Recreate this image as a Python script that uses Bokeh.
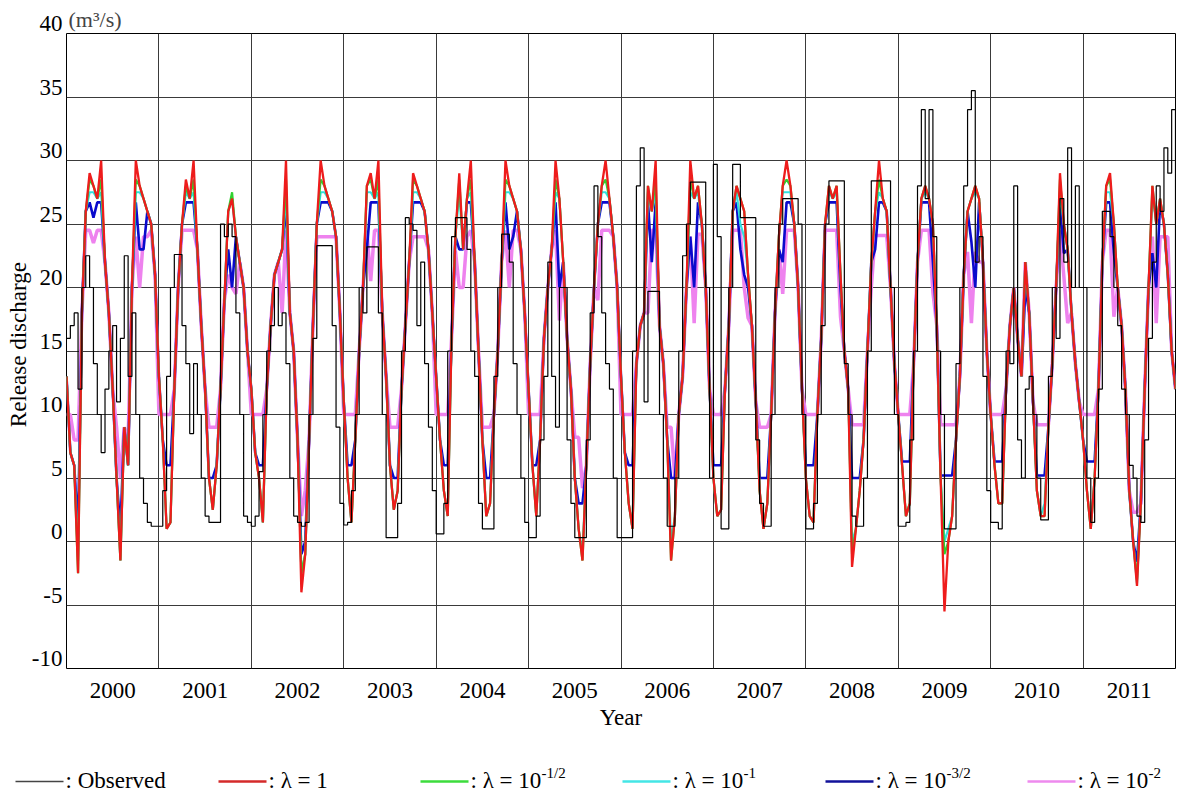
import numpy as np
from bokeh.plotting import figure
from bokeh.models import FixedTicker, Range1d
from bokeh.layouts import column, row
from bokeh.embed import file_html
from bokeh.resources import INLINE
from bokeh.core.properties import value

FONT = "Liberation Serif"
years = list(range(2000, 2012))
year_labels = [str(y) for y in years]
y_ticks = [-10, -5, 0, 5, 10, 15, 20, 25, 30, 35, 40]
steps_per_year = 24  # half-monthly readings

observed = [
    16, 17, 18, 12, 20, 22.5, 20, 14, 10, 7, 12, 15, 17, 11, 16, 22.5, 13, 18, 10, 5, 3, 1.5, 1.2, 1.2,
    1.2, 4, 13, 20, 22.6, 22.6, 17, 14, 8.5, 14, 10, 5, 2, 1.5, 1.5, 1.5, 25, 24, 25, 24, 18, 10, 2, 1.5,
    1.2, 2, 5.5, 10, 15, 17, 20, 17, 18, 14, 5, 2, 1.5, 1.2, 1.5, 10, 16, 23.3, 23.3, 23.3, 23.3, 17, 9, 3,
    1.3, 1.5, 4, 10, 20, 18, 23.2, 23.2, 23.2, 18, 10, 0.3, 0.3, 0.3, 3, 15, 25.5, 25, 24.5, 17, 22, 14, 9, 4,
    0.6, 0.6, 3, 15, 24, 25.5, 25.5, 25.5, 23, 15, 13, 3, 1, 1, 1, 13, 20, 24.2, 24.2, 22, 14, 10, 5, 1.5,
    0.3, 0.3, 2, 8, 13, 22, 13, 9, 20, 20, 8, 3, 0.3, 0.3, 0.3, 8, 18, 28, 24, 18, 14, 12, 5, 0.3,
    0.3, 0.3, 0.3, 15, 28, 31, 11, 19.7, 19.7, 19.7, 10, 5, 1.2, 1.2, 5, 15, 22.5, 25, 28.3, 28.3, 28.3, 28.3, 20, 5,
    29.7, 24, 1, 1, 20, 29.7, 29.7, 25.5, 25.5, 25.5, 25.5, 8, 3, 1.2, 1.2, 10, 20, 25, 27, 27, 27, 27, 25, 10,
    1, 1, 3, 10, 17, 25, 28.4, 28.4, 28.4, 28.4, 14, 10, 2, 1.2, 1.2, 5, 15, 28.4, 28.4, 28.4, 28.4, 28.4, 20, 10,
    1.2, 1.2, 1.5, 8, 15, 28, 34, 27, 34, 24, 15, 10, 1, 1, 1, 14, 20, 28, 34, 35.5, 22, 24, 13, 4,
    1.5, 1.5, 1.0, 10, 15, 14, 28, 8, 5, 12, 13, 10, 5, 1.7, 1.7, 13, 20, 16, 27, 22, 31, 20, 28, 20,
    20, 5, 1.5, 5, 12, 26, 26, 24, 20, 17, 12, 10, 6, 5, 2, 1.5, 8, 16, 22, 28, 26, 31, 29, 34,
    20,
]

lam_1 = [
    13, 7, 6, -2.5, 18, 26, 29, 28, 27, 30, 22, 18, 12, 5, -1.5, 9, 6, 20, 30, 28, 27, 26, 25, 21,
    13, 8, 1, 1.5, 12, 20, 25, 28.5, 27, 30, 23, 17, 12, 5, 2.5, 6, 12, 19, 26, 27, 24, 22, 20, 15,
    12, 7, 5, 1.5, 12, 17, 21, 22, 23, 30, 18, 15, 8, -4, -1, 8, 17, 25, 30, 28, 27, 26, 24, 18,
    11, 5, 1.5, 8, 15, 20, 28, 29, 27, 30, 18, 13, 6, 2.5, 4, 12, 17, 22, 29, 28, 27, 26, 23, 18,
    13, 8, 4, 2, 16, 24, 29, 23, 27, 30, 22, 15, 8, 2, 3, 10, 15, 22, 30, 28, 27, 26, 23, 18,
    12, 6, 2, 8, 16, 20, 23, 30, 27, 22, 16, 12, 5, 1, -1.5, 6, 14, 20, 25, 28, 30, 27, 24, 20,
    13, 7, 3, 1, 14, 17, 18, 28, 26, 30, 17, 14, 8, -1.5, 2, 10, 13, 20, 30, 27, 28, 25, 20, 12,
    5, 2, 2.5, 12, 17, 26, 28, 27, 26, 21, 17, 11, 4, 1, 3, 10, 18, 24, 28, 30, 28, 25, 20, 12,
    5, 2, 1.5, 10, 16, 25, 28, 27, 28, 21, 15, 12, -2, 1, 4, 8, 15, 22, 26, 30, 27, 26, 20, 14,
    10, 6, 2, 3, 14, 22, 27, 28, 27, 25, 17, 5, -5.5, 0, 2, 8, 13, 21, 26, 27, 28, 27, 22, 15,
    10, 6, 3, 3, 12, 17, 20, 16, 13, 22, 18, 11, 4, 2, 2, 9, 14, 20, 29, 25, 23, 18, 14, 11,
    8, 4, 1, 5, 12, 22, 28, 29, 25, 20, 17, 12, 4, 0, -3.5, 3, 12, 20, 28, 25, 27, 25, 21, 15,
    12,
]

lam_m05 = [
    13, 7, 6, -2.5, 18, 26, 28.5, 28, 27, 28.5, 22, 18, 12, 5, -1.5, 9, 6, 20, 28.5, 28, 27, 26, 25, 21,
    13, 8, 1, 1.5, 12, 20, 25, 28, 27, 28.5, 23, 17, 12, 5, 2.5, 6, 12, 19, 26, 27.5, 24, 22, 20, 15,
    12, 7, 5, 1.5, 12, 17, 21, 22, 23, 28.5, 18, 15, 8, -2.5, -1, 8, 17, 25, 28.5, 28, 27, 26, 24, 18,
    11, 5, 1.5, 8, 15, 20, 28, 28.5, 27, 28.5, 18, 13, 6, 2.5, 4, 12, 17, 22, 28.5, 28, 27, 26, 23, 18,
    13, 8, 4, 2, 16, 24, 28.5, 23, 27, 28.5, 22, 15, 8, 2, 3, 10, 15, 22, 28.5, 28, 27, 26, 23, 18,
    12, 6, 2, 8, 16, 20, 23, 28.5, 27, 22, 16, 12, 5, 1, -1.5, 6, 14, 20, 25, 28, 28.5, 27, 24, 20,
    13, 7, 3, 1, 14, 17, 18, 28, 26, 28.5, 17, 14, 8, -1.5, 2, 10, 13, 20, 28.5, 27, 28, 25, 20, 12,
    5, 2, 2.5, 12, 17, 26, 28, 27, 26, 21, 17, 11, 4, 1, 3, 10, 18, 24, 28, 28.5, 28, 25, 20, 12,
    5, 2, 1.5, 10, 16, 25, 28, 27, 28, 21, 15, 12, -1, 1, 4, 8, 15, 22, 26, 28.5, 27, 26, 20, 14,
    10, 6, 2, 3, 14, 22, 27, 28, 27, 25, 17, 5, -1, 0, 2, 8, 13, 21, 26, 27, 28, 27, 22, 15,
    10, 6, 3, 3, 12, 17, 20, 16, 13, 22, 18, 11, 4, 2, 2, 9, 14, 20, 28.5, 25, 23, 18, 14, 11,
    8, 4, 1, 5, 12, 22, 28, 28.5, 25, 20, 17, 12, 4, 0, -3, 3, 12, 20, 28, 25, 27, 25, 21, 15,
    12,
]

lam_m1 = [
    13, 7, 6, -1.5, 18, 26, 27.5, 27.5, 27, 27.5, 22, 18, 12, 5, -1.5, 9, 6, 20, 27.5, 27.5, 27, 26, 25, 21,
    13, 8, 1, 1.5, 12, 20, 25, 27.5, 27, 27.5, 23, 17, 12, 5, 2.5, 6, 12, 19, 26, 27, 24, 22, 20, 15,
    12, 7, 5, 1.5, 12, 17, 21, 22, 23, 27.5, 18, 15, 8, -2.5, -1, 8, 17, 25, 27.5, 27.5, 27, 26, 24, 18,
    11, 5, 1.5, 8, 15, 20, 27.5, 27.5, 27, 27.5, 18, 13, 6, 2.5, 4, 12, 17, 22, 27.5, 27.5, 27, 26, 23, 18,
    13, 8, 4, 2, 16, 24, 27.5, 23, 27, 27.5, 22, 15, 8, 2, 3, 10, 15, 22, 27.5, 27.5, 27, 26, 23, 18,
    12, 6, 2, 8, 16, 20, 23, 27.5, 27, 22, 16, 12, 5, 1, -1, 6, 14, 20, 25, 27.5, 27.5, 27, 24, 20,
    13, 7, 3, 1, 14, 17, 18, 27.5, 26, 27.5, 17, 14, 8, 0, 2, 10, 13, 20, 27.5, 27, 27.5, 25, 20, 12,
    5, 2, 2.5, 12, 17, 26, 27.5, 25, 24, 21, 17, 11, 4, 1, 3, 10, 18, 24, 27.5, 27.5, 27.5, 25, 20, 12,
    5, 2, 1.5, 10, 16, 25, 27.5, 27, 27.5, 21, 15, 12, 0, 1, 4, 8, 15, 22, 26, 27.5, 27, 26, 20, 14,
    10, 6, 2, 3, 14, 22, 27, 27.5, 27, 25, 17, 5, 0, 1, 2, 8, 13, 21, 26, 27, 27.5, 27, 22, 15,
    10, 6, 3, 3, 12, 17, 20, 16, 13, 22, 18, 11, 4, 2, 3, 9, 14, 20, 27.5, 25, 23, 18, 14, 11,
    8, 4, 1, 5, 12, 22, 27.5, 27.5, 25, 20, 17, 12, 4, 0, -3.3, 3, 12, 20, 27.5, 25, 27, 25, 21, 15,
    12,
]

lam_m15 = [
    13, 7, 6, 1, 18, 26, 26.7, 25.5, 26.7, 26.7, 22, 18, 12, 5, 1, 9, 6, 20, 26.7, 23, 23, 26, 25, 21,
    13, 8, 6, 6, 12, 20, 25, 26.7, 26.7, 26.7, 23, 17, 12, 5, 5, 6, 12, 19, 23, 20, 24, 22, 20, 15,
    12, 7, 6, 6, 12, 17, 21, 22, 23, 26.7, 18, 15, 8, -1, 0, 8, 17, 25, 26.7, 26.7, 26.7, 26, 24, 18,
    11, 6, 6, 8, 15, 20, 23, 26.7, 26.7, 26.7, 18, 13, 6, 5, 5, 12, 17, 22, 26.7, 26.7, 26.7, 26, 23, 18,
    13, 8, 6, 6, 16, 24, 23, 23, 26.7, 26.7, 22, 15, 8, 5, 5, 10, 15, 22, 26.7, 23, 24, 26, 23, 18,
    12, 6, 6, 8, 16, 20, 23, 26.7, 20, 22, 16, 12, 5, 3, 3, 6, 14, 20, 25, 26.7, 26.7, 26.7, 24, 20,
    13, 7, 6, 6, 14, 17, 18, 26.7, 22, 26.7, 17, 14, 8, 5, 5, 10, 13, 20, 24, 20, 26.7, 25, 20, 12,
    6, 6, 6, 12, 17, 26, 26.7, 23, 21, 20, 17, 11, 5, 5, 5, 10, 18, 23, 22, 26.7, 26.7, 25, 20, 12,
    6, 6, 6, 10, 16, 25, 26.7, 26.7, 26.7, 20, 15, 12, 5, 5, 5, 8, 15, 22, 23, 26.7, 26.7, 26, 20, 14,
    10, 6.3, 6.3, 6.3, 14, 22, 26.7, 26.7, 26.7, 22, 17, 5.2, 5.2, 5.2, 5.2, 8, 13, 21, 26, 23.6, 20, 26.7, 22, 15,
    10, 6.3, 6.3, 6.3, 12, 17, 20, 16, 13, 20, 18, 11, 5.2, 5.2, 5.2, 9, 14, 20, 26.7, 22.7, 23, 18, 14, 11,
    8, 6.3, 6.3, 6.3, 12, 22, 26.7, 26.7, 22.7, 20, 17, 12, 4, 0, -1.6, 3, 12, 20, 22.7, 20, 26.7, 25, 21, 15,
    12,
]

lam_m2 = [
    10, 10, 8, 8, 18, 24.5, 24.5, 23.5, 24.5, 24.5, 22, 18, 12, 9, 5, 9, 8, 20, 24, 20, 24, 24, 24.5, 21,
    10, 10, 10, 10, 12, 20, 24.5, 24.5, 24.5, 24.5, 23, 17, 12, 9, 9, 9, 12, 19, 21, 20, 19.5, 22, 20, 15,
    10, 10, 10, 10, 12, 17, 21, 22, 18, 24.5, 18, 15, 8, 2, 4, 8, 17, 24, 24, 24, 24, 24, 24, 18,
    10, 10, 10, 10, 15, 20, 24.5, 20.5, 24.5, 24.5, 18, 13, 9, 9, 9, 12, 17, 22, 24, 24, 24, 24, 23, 18,
    10, 10, 10, 10, 16, 22.9, 20, 20, 24, 24.5, 22, 15, 9, 9, 9, 10, 15, 22, 24.5, 20, 24.5, 24.5, 23, 18,
    10, 10, 10, 10, 16, 20, 23, 24.5, 17.4, 22, 16, 12, 8.2, 8.2, 4.2, 6, 14, 20, 19, 24.5, 24.5, 24.5, 24, 20,
    10, 10, 10, 10, 14, 17, 18, 18, 24.5, 24.5, 17, 14, 9, 9, 5, 10, 13, 20, 24, 17.2, 24.2, 24.2, 20, 12,
    10, 10, 10, 12, 17, 24.5, 24.5, 24.5, 20, 17.6, 17, 11, 9, 9, 9, 10, 18, 23, 19.5, 24.5, 24.5, 24.5, 20, 12,
    10, 10, 10, 10, 16, 24.5, 24.5, 24.5, 24.5, 17.7, 15, 12, 9.2, 9.2, 9.2, 9.2, 15, 20, 24.1, 24.1, 24.1, 24.1, 20, 14,
    10, 10, 10, 10, 14, 22, 24.5, 24.5, 24.5, 19.6, 17, 9.2, 9.2, 9.2, 9.2, 9.2, 13, 21, 22.8, 17.2, 22.8, 22, 22, 15,
    10, 10, 10, 10, 12, 17, 20, 16, 13, 22, 18, 11, 9.2, 9.2, 9.2, 9.2, 14, 20, 24.5, 20.9, 17.2, 18, 14, 11,
    10, 10, 10, 10, 12, 22, 24.5, 24.5, 17.7, 20, 17, 12, 4, 2.3, 2.3, 3, 12, 20, 24, 17.2, 24, 24, 24, 15,
    12,
]

n_pts = len(observed)
for s in (lam_1, lam_m05, lam_m1, lam_m15, lam_m2):
    assert len(s) == n_pts, len(s)

t = years[0] + np.arange(n_pts) / steps_per_year

# ---- layout geometry (pixels) ----
GUT_W = 66          # left gutter holding y tick labels and y title
MAIN_W = 1118
MAIN_H = 740
TOP = 33            # frame top
BOTTOM = 72         # space below frame
RIGHT = 9
LEG_H = 54
FS = "23px"

y_lo, y_hi = -10, 40
px_per_unit = (MAIN_H - TOP - BOTTOM) / (y_hi - y_lo)


def no_align(fig):
    try:
        fig.frame_align = False
    except Exception:
        pass


p = figure(width=MAIN_W, height=MAIN_H, x_range=Range1d(2000, 2012), y_range=Range1d(y_lo, y_hi),
           output_backend="svg", toolbar_location=None,
           min_border_left=0, min_border_right=RIGHT, min_border_top=TOP, min_border_bottom=BOTTOM)
no_align(p)
p.background_fill_color = "white"
p.border_fill_color = "white"
p.outline_line_color = "black"
p.outline_line_width = 1
p.outline_line_alpha = 1

p.title.text = "(m\u00b3/s)"
p.title.text_font = FONT
p.title.text_font_size = "22px"
p.title.text_font_style = "normal"
p.title.align = "left"
p.title.offset = 2
p.title.standoff = 3

p.xgrid.ticker = FixedTicker(ticks=years[1:])
p.ygrid.ticker = FixedTicker(ticks=y_ticks[1:-1])
p.xgrid.grid_line_color = "#3a3a3a"
p.ygrid.grid_line_color = "#3a3a3a"
p.xgrid.grid_line_alpha = 1
p.ygrid.grid_line_alpha = 1
p.xgrid.grid_line_width = 1
p.ygrid.grid_line_width = 1

p.xaxis.ticker = FixedTicker(ticks=[y + 0.5 for y in years])
p.xaxis.major_label_overrides = {y + 0.5: lbl for y, lbl in zip(years, year_labels)}
p.xaxis.major_tick_line_color = None
p.xaxis.minor_tick_line_color = None
p.xaxis.axis_line_color = None
p.xaxis.major_label_text_font = FONT
p.xaxis.major_label_text_font_size = FS
p.xaxis.major_label_text_color = "black"
p.xaxis.major_label_standoff = 8
p.xaxis.axis_label = "Year"
p.xaxis.axis_label_text_font = FONT
p.xaxis.axis_label_text_font_size = FS
p.xaxis.axis_label_text_font_style = "normal"
p.xaxis.axis_label_text_color = "black"
p.xaxis.axis_label_standoff = 4
p.yaxis.visible = False

col_obs = "#000000"
col_1 = "#ee1c1c"
col_m05 = "#2fd12f"
col_m1 = "#30e0e0"
col_m15 = "#0a0acc"
col_m2 = "#ee82ee"

p.line(t, lam_m2, line_color=col_m2, line_width=3.5)
p.line(t, lam_m15, line_color=col_m15, line_width=2.6)
p.line(t, lam_m1, line_color=col_m1, line_width=2.2)
p.line(t, lam_m05, line_color=col_m05, line_width=2.2)
p.line(t, lam_1, line_color=col_1, line_width=2.3)
p.step(t, observed, mode="after", line_color=col_obs, line_width=1.2)

# ---- left gutter: same vertical scale as the plot frame ----
g_lo = y_lo - BOTTOM / px_per_unit
g_hi = y_hi + TOP / px_per_unit
gut = figure(width=GUT_W, height=MAIN_H, x_range=Range1d(0, GUT_W), y_range=Range1d(g_lo, g_hi),
             output_backend="svg", toolbar_location=None,
             min_border_left=0, min_border_right=0, min_border_top=0, min_border_bottom=0)
no_align(gut)
gut.axis.visible = False
gut.grid.visible = False
gut.outline_line_color = None
gut.background_fill_color = "white"
gut.border_fill_color = "white"
gut.text(x=[GUT_W - 4] * len(y_ticks), y=y_ticks, text=[str(v) for v in y_ticks],
         text_font=value(FONT), text_font_size=FS, text_align="right",
         text_baseline="middle", y_offset=-10, text_color="black")
gut.text(x=[18], y=[15.5], text=["Release discharge"], angle=np.pi / 2,
         text_font=value(FONT), text_font_size=FS, text_align="center",
         text_baseline="middle", text_color="black")

# ---- legend strip ----
leg = figure(width=GUT_W + MAIN_W, height=LEG_H, x_range=Range1d(0, GUT_W + MAIN_W), y_range=Range1d(0, LEG_H),
             output_backend="svg", toolbar_location=None,
             min_border_left=0, min_border_right=0, min_border_top=0, min_border_bottom=0)
no_align(leg)
leg.axis.visible = False
leg.grid.visible = False
leg.outline_line_color = None
leg.background_fill_color = "white"
leg.border_fill_color = "white"

legend_names = [": Observed", ": \u03bb = 1", ": \u03bb = 10", ": \u03bb = 10", ": \u03bb = 10", ": \u03bb = 10"]
legend_sups = ["", "", "-1/2", "-1", "-3/2", "-2"]
legend_colors = ["#444444", "#d42a2a", "#3cdc3c", "#44e6e6", "#12129a", "#ee8aee"]
legend_widths = [1.5, 2.5, 2.5, 2.5, 2.5, 2.5]
legend_x = [15, 218, 420, 622, 825, 1027]
seg_len = 48
line_y = 13
text_y = 14
sup_dx = 71

for nm, sup, c, w, x0 in zip(legend_names, legend_sups, legend_colors, legend_widths, legend_x):
    leg.line([x0, x0 + seg_len], [line_y, line_y], line_color=c, line_width=w)
    leg.text([x0 + seg_len + 2], [text_y], text=[nm], text_font=value(FONT),
             text_font_size=FS, text_baseline="middle", text_align="left", text_color="black")
    if sup:
        leg.text([x0 + seg_len + 2 + sup_dx], [text_y + 8], text=[sup], text_font=value(FONT),
                 text_font_size="15px", text_baseline="middle", text_align="left", text_color="black")

layout = column(row(gut, p, spacing=0), leg, spacing=0)
open("out.html", "w").write(file_html(layout, INLINE))
